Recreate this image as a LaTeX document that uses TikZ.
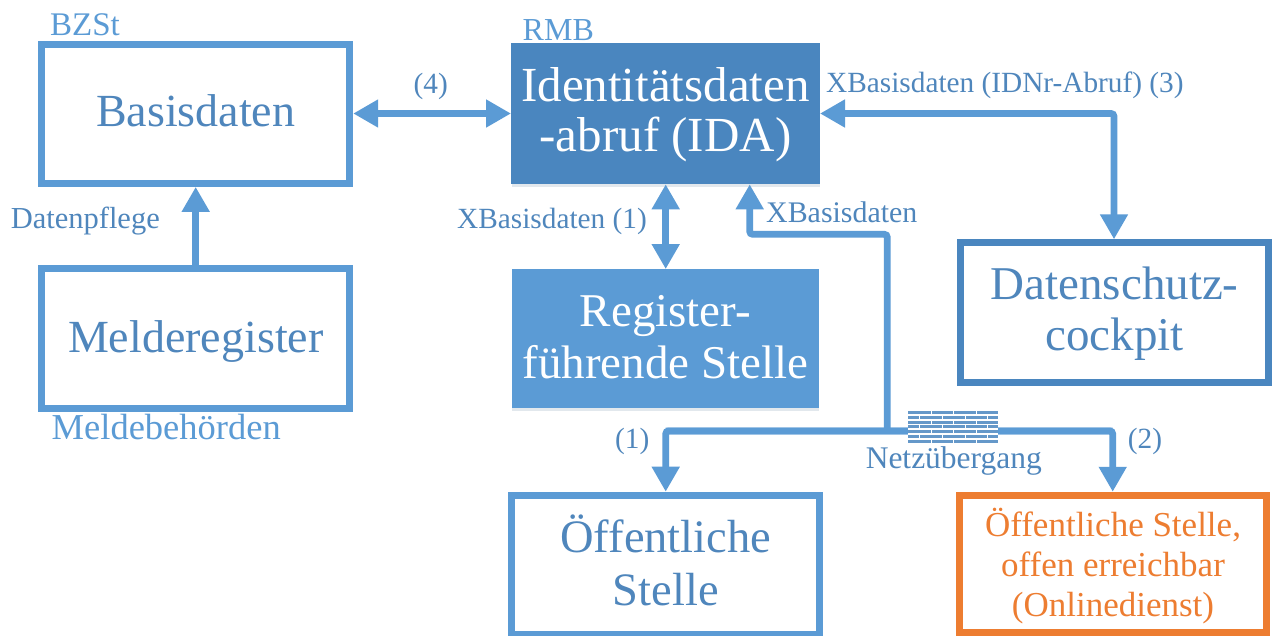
\documentclass[tikz,border=0pt]{standalone}
\usepackage{fontspec}
\setmainfont{Liberation Serif}
\usetikzlibrary{arrows.meta,calc,shadows}
\definecolor{bl}{HTML}{5B9BD5}
\definecolor{dk}{HTML}{4A86BF}
\definecolor{tx}{HTML}{4F86BC}
\definecolor{og}{HTML}{ED7D31}
\newcommand{\boxtext}[2]{\raisebox{#1pt}[0pt][0pt]{\begin{tabular}[t]{@{}c@{}}#2\end{tabular}}}
\tikzset{
 x=1pt,y=-1pt,
 box/.style={draw=bl,line width=7pt,fill=white,inner sep=0pt,text=tx,minimum width=308pt,minimum height=139.4pt,font=\fontsize{46}{52}\selectfont},
 solid box/.style={line width=1pt,inner sep=0pt,text=white,drop shadow={shadow xshift=0pt,shadow yshift=-3pt,opacity=.14,fill=bl!60!black}},
 lab/.style={text=tx,inner sep=0pt,font=\fontsize{29.3}{32}\selectfont},
 owner/.style={text=bl,inner sep=0pt,anchor=base west,font=\fontsize{33}{36}\selectfont},
 conn/.style={draw=bl,line width=6.8pt,rounded corners=3pt},
 both/.style={conn,{Triangle[width=26.5pt,length=25pt]}-{Triangle[width=26.5pt,length=25pt]}},
 one/.style={conn,-{Triangle[width=26.5pt,length=25pt]}},
}
\begin{document}
\begin{tikzpicture}
\useasboundingbox (0,0) rectangle (1281,635);
\fill[white] (0,0) rectangle (1281,635);
% boxes
\node[box] (basis) at (195.7,113.7) {\boxtext{-13}{Basisdaten}};
\node[box] (melde) at (195.8,338.5) {\boxtext{-13.8}{Melderegister}};
\node[solid box,draw=dk,fill=dk,minimum width=308pt,minimum height=140pt,font=\fontsize{49}{50.7}\selectfont] (ida) at (665.5,113.8) {\boxtext{12.8}{Identitätsdaten\\-abruf (IDA)}};
\node[solid box,draw=bl,fill=bl,minimum width=306.6pt,minimum height=138.3pt,font=\fontsize{47}{52.3}\selectfont] (reg) at (665.5,338.7) {\boxtext{12.7}{Register-\\führende Stelle}};
\node[box,draw=dk,font=\fontsize{47}{51.7}\selectfont] (cock) at (1114.6,312.5) {\boxtext{13.5}{Datenschutz-\\cockpit}};
\node[box,font=\fontsize{46.5}{52.3}\selectfont] (oeff) at (665.8,564.9) {\boxtext{12.2}{Öffentliche\\Stelle}};
\node[box,draw=og,text=og,minimum width=307.3pt,minimum height=137.5pt,font=\fontsize{35}{40.3}\selectfont] (online) at (1113,564) {\boxtext{28}{Öffentliche Stelle,\\offen erreichbar\\(Onlinedienst)}};
% junctions
\coordinate (c1) at (749.7,234.3);
\coordinate (c2) at (887.3,234.3);
\coordinate (c3) at (887.3,431);
\coordinate (jl) at (665.7,431);
\coordinate (jr) at (1112.7,431);
\coordinate (c4) at (1114,113.5);
\coordinate (mx) at (195.7,0);
\coordinate (rx) at (665.7,0);
% connectors
\draw[both] (basis.east |- c4) -- (ida.west |- c4);
\draw[one] (melde.north -| mx) -- (basis.south -| mx);
\draw[both] (ida.south -| rx) -- (reg.north -| rx);
\draw[both] (ida.east |- c4) -- (c4) -- (cock.north -| c4);
\draw[one] (c3) -- (c2) -- (c1) -- (ida.south -| c1);
\draw[one] (jr) -- (jl) -- (oeff.north -| jl);
\draw[one] (jl) -- (jr) -- (online.north -| jr);
% firewall
\node[fill=white,inner sep=0pt,minimum width=90pt,minimum height=33pt] (wall) at (953,427.3) {};
\foreach \y in {0,1,...,6}{
 \fill[dk!85!white] (908,411+\y*4.75) rectangle (998,411+\y*4.75+3.2);
}
\foreach \y in {0,2,4,6}{
 \foreach \x in {931,953,976}{\fill[white] (\x,411+\y*4.75) rectangle (\x+1.2,411+\y*4.75+3.4);}
}
\foreach \y in {1,3,5}{
 \foreach \x in {919,942,965,987}{\fill[white] (\x,411+\y*4.75) rectangle (\x+1.2,411+\y*4.75+3.4);}
}
% labels
\node[owner] (l1) at (50,35) {BZSt};
\node[owner,font=\fontsize{32}{36}\selectfont] (l2) at (522.5,40.7) {RMB};
\node[owner,font=\fontsize{36.5}{40}\selectfont] (l3) at (51.5,439) {Meldebehörden};
\node[lab,anchor=base] (l4) at (430.7,93) {(4)};
\node[lab,anchor=base east,font=\fontsize{30.5}{32}\selectfont] (l5) at (160,228) {Datenpflege};
\node[lab,anchor=base east] (l6) at (647,228.3) {XBasisdaten (1)};
\node[lab,anchor=base west,font=\fontsize{29.9}{32}\selectfont] (l7) at (766,222.7) {XBasisdaten};
\node[lab,anchor=base west] (l8) at (826,92.3) {XBasisdaten (IDNr-Abruf) (3)};
\node[lab,anchor=base] (l9) at (632.3,448) {(1)};
\node[lab,anchor=base] (l10) at (1145,448) {(2)};
\node[lab,anchor=base,font=\fontsize{31.5}{32}\selectfont] (l11) at (953.8,468.3) {Netzübergang};
\end{tikzpicture}
\end{document}
